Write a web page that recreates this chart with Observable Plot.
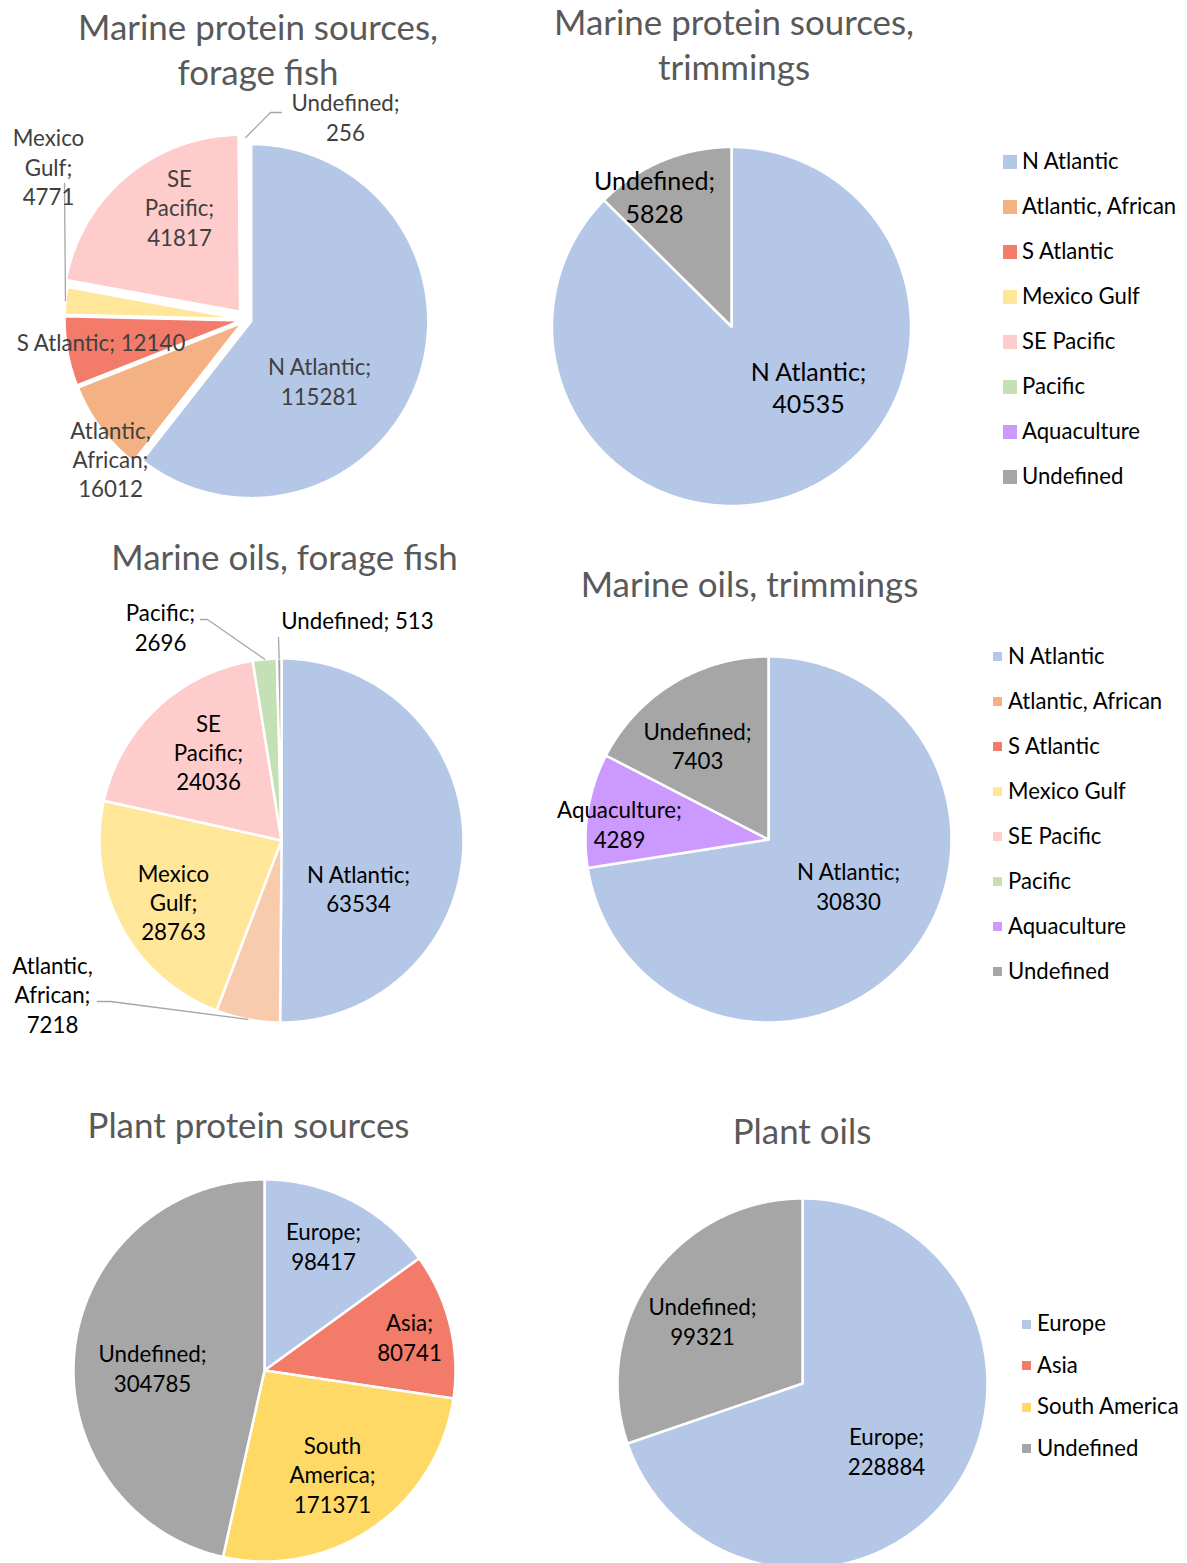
<!DOCTYPE html>
<html>
<head>
<meta charset="utf-8">
<script src="https://cdn.jsdelivr.net/npm/d3@7"></script>
<script src="https://cdn.jsdelivr.net/npm/@observablehq/plot@0.6"></script>
<style>
  html, body { margin: 0; padding: 0; background: #fff; }
  #page { position: relative; width: 1187px; height: 1563px; overflow: hidden; font-family: Lato, "Open Sans", sans-serif; }
  .title { position: absolute; color: #595959; text-align: center; white-space: pre; transform: translateX(-50%); }
  .lg-item { position: absolute; white-space: nowrap; color: #000; }
  .lg-sw { position: absolute; }
</style>
</head>
<body>
<div id="page"></div>
<script>
// ---------------- data ----------------
const marineCategories = ["N Atlantic", "Atlantic, African", "S Atlantic", "Mexico Gulf", "SE Pacific", "Pacific", "Aquaculture", "Undefined"];
const marineColors = ["#B4C7E7", "#F4B183", "#F27B69", "#FFE699", "#FFCCCC", "#C5E0B4", "#CC99FF", "#A6A6A6"];
const plantCategories = ["Europe", "Asia", "South America", "Undefined"];
const plantColors = ["#B4C7E7", "#F27B69", "#FFD966", "#A6A6A6"];

const proteinForageFish = [115281, 16012, 12140, 4771, 41817, 0, 0, 256];
const proteinTrimmings = [40535, 0, 0, 0, 0, 0, 0, 5828];
const oilsForageFish = [63534, 7218, 0, 28763, 24036, 2696, 0, 513];
const oilsTrimmings = [30830, 0, 0, 0, 0, 0, 4289, 7403];
const plantProtein = [98417, 80741, 171371, 304785];
const plantOils = [228884, 0, 0, 99321];

const chartTitles = [
  "Marine protein sources,\nforage fish",
  "Marine protein sources,\ntrimmings",
  "Marine oils, forage fish",
  "Marine oils, trimmings",
  "Plant protein sources",
  "Plant oils"
];

// ---------------- layout ----------------
const FONT = "Lato";
const ctx = document.createElement("canvas").getContext("2d");
function fitSize(text, width) {
  ctx.font = `100px ${FONT}`;
  return 100 * width / ctx.measureText(text).width;
}
const titleSize = fitSize("Marine protein sources,", 360);
const labelSize = fitSize("Undefined;", 108);
const labelSizeLarge = fitSize("Undefined;", 121);
const legendSize = fitSize("Atlantic, African", 155);
const labelNudge = -1.5;   // vertical optical correction for the substitute font
const titleNudge = -2;
const legendNudge = -1;

const charts = [
  { values: proteinForageFish, cats: marineCategories, colors: marineColors,
    region: [0, 88, 540, 432], cx: 246, cy: 319, r: 177,
    explode: { default: 5, "SE Pacific": 10 },
    labelColor: "#404040", fontSize: labelSize, lineGap: 29.3,
    title: { text: chartTitles[0], x: 258, y: 28 },
    labels: {
      "N Atlantic": { at: [73, 62.5], wrap: "value" },
      "Atlantic, African": { at: [-136, 140.7], wrap: "all" },
      "S Atlantic": { at: [-145.5, 24], wrap: "none" },
      "Mexico Gulf": { at: [-198, -151.7], wrap: "all", leader: [[-182, -136]] },
      "SE Pacific": { at: [-67, -111], wrap: "all" },
      "Undefined": { at: [99, -201.5], wrap: "value", leader: [[24, -207], [35, -207]] }
    } },
  { values: proteinTrimmings, cats: marineCategories, colors: marineColors,
    region: [540, 88, 450, 432], cx: 731, cy: 326, r: 179.5,
    labelColor: "#000", fontSize: labelSizeLarge, lineGap: 32.5,
    title: { text: chartTitles[1], x: 734, y: 23 },
    labels: {
      "Undefined": { at: [-77, -129], wrap: "value" },
      "N Atlantic": { at: [77, 61.5], wrap: "value" }
    } },
  { values: oilsForageFish, cats: marineCategories, colors: marineColors,
    override: { "Atlantic, African": "#F8CBAD" },
    region: [0, 590, 540, 460], cx: 281, cy: 840, r: 182,
    labelColor: "#000", fontSize: labelSize, lineGap: 29.3,
    title: { text: chartTitles[2], x: 284.5, y: 558 },
    labels: {
      "N Atlantic": { at: [77, 49], wrap: "value" },
      "Atlantic, African": { at: [-229, 155], wrap: "all", leader: [[-171, 161], [-184, 161]] },
      "Mexico Gulf": { at: [-108, 62.7], wrap: "all" },
      "SE Pacific": { at: [-73, -87.3], wrap: "all" },
      "Pacific": { at: [-121, -212.5], wrap: "all", leader: [[-74, -221], [-81, -221]] },
      "Undefined": { at: [76, -219], wrap: "none", leader: [[-3, -203]] }
    } },
  { values: oilsTrimmings, cats: marineCategories, colors: marineColors,
    region: [540, 600, 450, 450], cx: 768, cy: 839, r: 183,
    labelColor: "#000", fontSize: labelSize, lineGap: 29.3,
    title: { text: chartTitles[3], x: 749.5, y: 585 },
    labels: {
      "Undefined": { at: [-71, -93], wrap: "value" },
      "Aquaculture": { at: [-149, -14.5], wrap: "value" },
      "N Atlantic": { at: [80, 47.5], wrap: "value" }
    } },
  { values: plantProtein, cats: plantCategories, colors: plantColors,
    region: [0, 1150, 540, 413], cx: 264, cy: 1370, r: 191,
    labelColor: "#000", fontSize: labelSize, lineGap: 29.3,
    title: { text: chartTitles[4], x: 248.5, y: 1126 },
    labels: {
      "Europe": { at: [59, -123.5], wrap: "value" },
      "Asia": { at: [145, -32.5], wrap: "value" },
      "South America": { at: [68, 105], wrap: "all" },
      "Undefined": { at: [-112, -1.5], wrap: "value" }
    } },
  { values: plantOils, cats: plantCategories, colors: plantColors,
    region: [540, 1160, 470, 403], cx: 802, cy: 1383, r: 185,
    labelColor: "#000", fontSize: labelSize, lineGap: 29.3,
    title: { text: chartTitles[5], x: 802, y: 1132 },
    labels: {
      "Undefined": { at: [-100, -61.5], wrap: "value" },
      "Europe": { at: [84, 68.5], wrap: "value" }
    } }
];

const legends = [
  { chart: 1, swX: 1003, sw: 14, textX: 1022, y0: 162, dy: 45 },
  { chart: 3, swX: 993, sw: 9, textX: 1008, y0: 656.5, dy: 45 },
  { chart: 5, swX: 1022, sw: 9, textX: 1037, y0: 1324, dy: 41.5 }
];

// ---------------- build ----------------
const page = document.getElementById("page");

function arcsOf(ch) {
  return d3.pie().sort(null).value(d => d)(ch.values).map((a, i) => {
    const cat = ch.cats[i];
    const e = ch.explode ? (ch.explode[cat] ?? ch.explode.default ?? 0) : 0;
    return { ...a, cat, e, mid: (a.startAngle + a.endAngle) / 2 };
  });
}

function sliceRows(ch, arcs) {
  const rows = [];
  for (const a of arcs) {
    if (!(a.value > 0)) continue;
    const ox = ch.cx + a.e * Math.sin(a.mid), oy = ch.cy - a.e * Math.cos(a.mid);
    rows.push({ cat: a.cat, x: ox, y: oy });
    const n = Math.max(2, Math.ceil((a.endAngle - a.startAngle) / (Math.PI / 360)));
    for (let k = 0; k <= n; k++) {
      const t = a.startAngle + (a.endAngle - a.startAngle) * k / n;
      rows.push({ cat: a.cat, x: ox + ch.r * Math.sin(t), y: oy - ch.r * Math.cos(t) });
    }
  }
  return rows;
}

function labelText(cat, value, wrap) {
  if (wrap === "all") return (cat + ";").split(" ").join("\n") + "\n" + value;
  if (wrap === "value") return cat + ";\n" + value;
  return cat + "; " + value;
}

function labelRows(ch, arcs) {
  return arcs.filter(a => a.value > 0 && ch.labels[a.cat]).map(a => {
    const L = ch.labels[a.cat];
    return { x: ch.cx + L.at[0], y: ch.cy + L.at[1] + labelNudge, text: labelText(a.cat, a.value, L.wrap) };
  });
}

function leaderRows(ch, arcs) {
  const rows = [];
  for (const a of arcs) {
    const L = ch.labels[a.cat];
    if (!(a.value > 0) || !L || !L.leader) continue;
    const R = ch.r + a.e;
    rows.push({ id: a.cat, x: ch.cx + R * Math.sin(a.mid), y: ch.cy - R * Math.cos(a.mid) });
    for (const p of L.leader) rows.push({ id: a.cat, x: ch.cx + p[0], y: ch.cy + p[1] });
  }
  return rows;
}

const plots = charts.map(ch => {
  const arcs = arcsOf(ch);
  const range = ch.cats.map((c, i) => (ch.override && ch.override[c]) || ch.colors[i]);
  const [L, T, W, H] = ch.region;
  const plot = Plot.plot({
    width: W, height: H, margin: 0,
    x: { domain: [L, L + W], range: [0, W], axis: null },
    y: { domain: [T, T + H], range: [0, H], axis: null },
    color: { domain: ch.cats, range },
    style: { background: "transparent", overflow: "visible" },
    marks: [
      Plot.line(sliceRows(ch, arcs), { x: "x", y: "y", z: "cat", fill: "cat", stroke: "white", strokeWidth: 2.5, curve: "linear-closed" }),
      Plot.line(leaderRows(ch, arcs), { x: "x", y: "y", z: "id", stroke: "#A6A6A6", strokeWidth: 1.3 }),
      Plot.text(labelRows(ch, arcs), { x: "x", y: "y", text: "text", fill: ch.labelColor, fontSize: ch.fontSize, fontFamily: FONT, lineHeight: ch.lineGap / ch.fontSize, textAnchor: "middle", lineAnchor: "middle" })
    ]
  });
  plot.style.position = "absolute";
  plot.style.left = L + "px";
  plot.style.top = T + "px";
  page.appendChild(plot);

  const t = document.createElement("div");
  t.className = "title";
  t.textContent = ch.title.text;
  t.style.fontSize = titleSize + "px";
  t.style.lineHeight = "45px";
  t.style.left = ch.title.x + "px";
  t.style.top = (ch.title.y - 22.5 + titleNudge) + "px";
  page.appendChild(t);
  return plot;
});

for (const lg of legends) {
  const ch = charts[lg.chart];
  const scale = plots[lg.chart].scale("color");
  ch.cats.forEach((cat, i) => {
    const y = lg.y0 + i * lg.dy;
    const sw = document.createElement("div");
    sw.className = "lg-sw";
    Object.assign(sw.style, { left: lg.swX + "px", top: (y - lg.sw / 2) + "px", width: lg.sw + "px", height: lg.sw + "px", background: scale.apply(cat) });
    page.appendChild(sw);
    const tx = document.createElement("div");
    tx.className = "lg-item";
    tx.textContent = cat;
    Object.assign(tx.style, { left: lg.textX + "px", top: (y - 15 + legendNudge) + "px", lineHeight: "30px", fontSize: legendSize + "px" });
    page.appendChild(tx);
  });
}
</script>
</body>
</html>
